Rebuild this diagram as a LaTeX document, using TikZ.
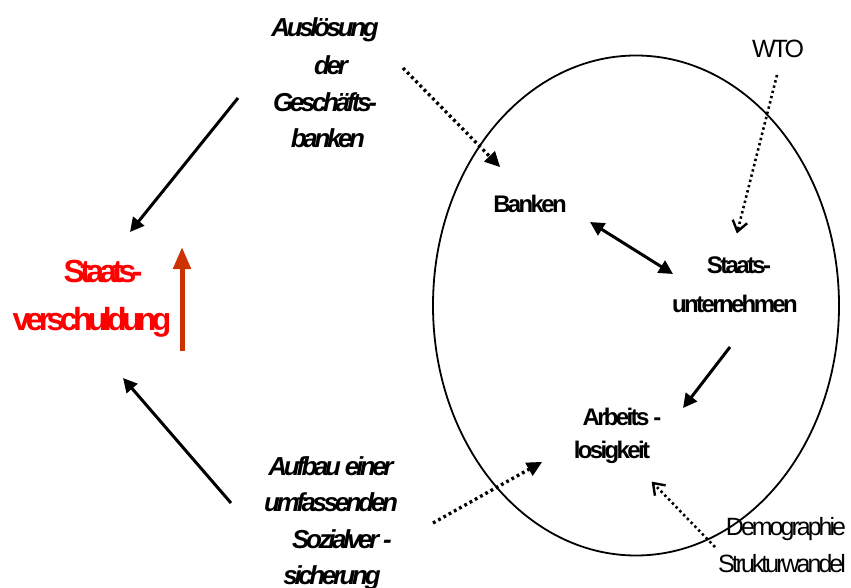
\documentclass[tikz,border=0pt]{standalone}
\usepackage{fontspec}
\setmainfont{Liberation Sans}
\usetikzlibrary{arrows.meta,calc}
\newfontfamily\tightA[LetterSpace=-14.5]{Liberation Sans}
\newfontfamily\tightB[LetterSpace=-11]{Liberation Sans}
\newfontfamily\tightC[LetterSpace=-13]{Liberation Sans}
\newfontfamily\tightD[LetterSpace=-12]{Liberation Sans}
\definecolor{redtext}{RGB}{255,0,0}
\definecolor{redarrow}{RGB}{204,51,0}
\tikzset{
  redtxt/.style={font=\tightA\bfseries\fontsize{32}{32}\selectfont, text=redtext, anchor=base, inner sep=0pt},
  boldtxt/.style={font=\tightB\bfseries\fontsize{24}{24}\selectfont, anchor=base, inner sep=0pt},
  itxt/.style={font=\tightC\bfseries\itshape\fontsize{26}{26}\selectfont, anchor=base, inner sep=0pt},
  plaintxt/.style={font=\tightD\fontsize{25}{25}\selectfont, anchor=base, inner sep=0pt},
  solidarrow/.style={line width=3pt, -{Triangle[length=14pt,width=14pt]}},
  dblarrow/.style={line width=3pt, {Triangle[length=14pt,width=14pt]}-{Triangle[length=14pt,width=14pt]}},
  dotline/.style={line width=3.3pt, dash pattern=on 2.8pt off 3.2pt},
  thindot/.style={line width=2.6pt, dash pattern=on 2.4pt off 3pt},
  filledtip/.style={line width=1pt, -{Triangle[length=15pt,width=15pt]}},
  vtip/.style={line width=2.4pt, line join=miter, line cap=butt},
  redup/.style={line width=5pt, draw=redarrow, -{Triangle[length=22pt,width=17pt]}}
}
\begin{document}
\begin{tikzpicture}[x=1pt,y=-1pt]
\useasboundingbox (0,0) rectangle (851,588);
% ellipse
\draw[line width=1.8pt] (636,305.5) ellipse [x radius=203, y radius=250];
% texts
\node[itxt] (t1) at (325,37) {Auslösung};
\node[itxt] (t2) at (331,75) {der};
\node[itxt] (t3) at (325,112) {Geschäfts-};
\node[itxt] (t4) at (328,148) {banken};
\node[itxt] (u1) at (331,475) {Aufbau einer};
\node[itxt] (u2) at (331,511) {umfassenden};
\node[itxt] (u3) at (342,548) {Sozialver -};
\node[itxt] (u4) at (332,584) {sicherung};
\node[redtxt] (r1) at (103,282) {Staats-};
\node[redtxt] (r2) at (92,330) {verschuldung};
\node[boldtxt] (b1) at (530,213) {Banken};
\node[boldtxt] (s1) at (739,273) {Staats-};
\node[boldtxt] (s2) at (735,312) {unternehmen};
\node[boldtxt] (a1) at (622,425) {Arbeits -};
\node[boldtxt] (a2) at (612,458) {losigkeit};
\node[plaintxt] (w1) at (778,58) {WTO};
\node[plaintxt] (d1) at (786,535) {Demographie};
\node[plaintxt] (d2) at (782,572) {Strukturwandel};
% arrow endpoints
\coordinate (p1s) at (238,98);  \coordinate (p1e) at (130,232);
\coordinate (p2s) at (231,503); \coordinate (p2e) at (123,378);
\coordinate (p3s) at (182,351); \coordinate (p3e) at (182,247);
\coordinate (p4s) at (403,68);  \coordinate (p4e) at (500,167);
\coordinate (p5s) at (590,222); \coordinate (p5e) at (673,274);
\coordinate (p6s) at (777,75);  \coordinate (p6e) at (737,233);
\coordinate (p7s) at (730,347); \coordinate (p7e) at (683,408);
\coordinate (p8s) at (433,523); \coordinate (p8e) at (542,462);
\coordinate (p9s) at (715,547); \coordinate (p9e) at (652,482);
% solid arrows
\draw[solidarrow] (p1s) -- (p1e);
\draw[solidarrow] (p2s) -- (p2e);
\draw[redup] (p3s) -- (p3e);
\draw[dblarrow] (p5s) -- (p5e);
\draw[solidarrow] (p7s) -- (p7e);
% dotted arrows: dotted shaft + solid tip
\draw[dotline] (p4s) -- ($(p4e)!12pt!(p4s)$);
\draw[filledtip] ($(p4e)!2pt!(p4s)$) -- (p4e);
\draw[dotline] (p8s) -- ($(p8e)!12pt!(p8s)$);
\draw[filledtip] ($(p8e)!2pt!(p8s)$) -- (p8e);
\draw[thindot] (p6s) -- ($(p6e)!3pt!(p6s)$);
\draw[vtip] ($(p6e)!14pt!32:(p6s)$) -- ($(p6e)!1.5pt!(p6s)$) -- ($(p6e)!14pt!-32:(p6s)$);
\draw[thindot] (p9s) -- ($(p9e)!3pt!(p9s)$);
\draw[vtip] ($(p9e)!14pt!32:(p9s)$) -- ($(p9e)!1.5pt!(p9s)$) -- ($(p9e)!14pt!-32:(p9s)$);
\end{tikzpicture}
\end{document}
